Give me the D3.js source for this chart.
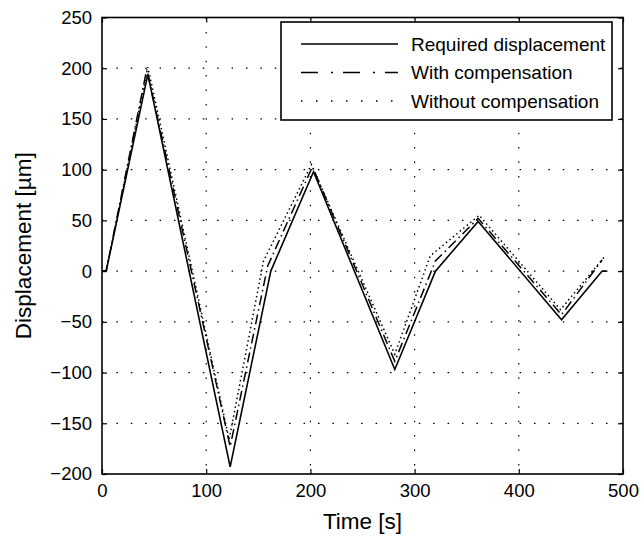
<!DOCTYPE html>
<html>
<head>
<meta charset="utf-8">
<script src="https://cdn.jsdelivr.net/npm/d3@7"></script>
<style>
  body { margin: 0; background: #fff; }
  svg text { font-family: "Liberation Sans", Arial, sans-serif; fill: #000; }
</style>
</head>
<body>
<svg id="chart" width="641" height="538"></svg>
<script>
// values: [time s, displacement um]
const required = [[0,0],[4,0],[44,194],[123,-193],[162,0],[203,98],[281,-97],[320,0],[361,49],[441,-48],[480,0],[484,0]];
const withComp = [[0,0],[4,0],[43,199],[123,-173],[159,5],[202,103],[281,-89],[320,10],[361,52],[441,-43],[480,11]];
const withoutComp = [[0,0],[4,0],[44,201],[122,-166],[155,10],[201,105],[281,-82],[315,15],[362,55],[440,-38],[483,15]];

const xTicks = [0, 100, 200, 300, 400, 500];
const yTicks = [-200, -150, -100, -50, 0, 50, 100, 150, 200, 250];

const seriesNames = ["Required displacement", "With compensation", "Without compensation"];

const svg = d3.select('#chart');
const pLeft = 102, pRight = 623, pTop = 17.5, pBottom = 474;

let x = d3.scaleLinear().domain([0, 500]).range([pLeft, pRight]);
let y = d3.scaleLinear().domain([-200, 250]).range([pBottom, pTop]);

// grid
let grid = svg.append('g');
grid.selectAll('line.gx').data(xTicks.slice(1, -1)).enter().append('line')
    .attr('x1', d => x(d)).attr('x2', d => x(d))
    .attr('y1', pTop).attr('y2', pBottom)
    .attr('stroke', '#000').attr('stroke-width', 1.2)
    .attr('stroke-dasharray', '1.5,12.9');
grid.selectAll('line.gy').data(yTicks.slice(1, -1)).enter().append('line')
    .attr('y1', d => y(d)).attr('y2', d => y(d))
    .attr('x1', pLeft).attr('x2', pRight)
    .attr('stroke', '#000').attr('stroke-width', 1.2)
    .attr('stroke-dasharray', '1.5,12.9');

// data lines
let line = d3.line().x(d => x(d[0])).y(d => y(d[1]));
let styles = [
    {data: required, dash: null, w: 1.6},
    {data: withComp, dash: '10,4,1.5,4', w: 1.5},
    {data: withoutComp, dash: '1.5,3', w: 1.5}
];
styles.forEach(function (s) {
    svg.append('path')
       .attr('d', line(s.data))
       .attr('fill', 'none')
       .attr('stroke', '#000')
       .attr('stroke-width', s.w)
       .attr('stroke-dasharray', s.dash);
});

// axes, ticks inside like matlab
let xAxis = d3.axisBottom(x).tickValues(xTicks).tickSize(-5).tickPadding(10).tickFormat(d3.format('d'));
let yAxis = d3.axisLeft(y).tickValues(yTicks).tickSize(-5).tickPadding(10)
              .tickFormat(d => d < 0 ? '\u2212' + Math.abs(d) : d);
let xTop = d3.axisTop(x).tickValues(xTicks).tickSize(-5).tickFormat('');
let yRight = d3.axisRight(y).tickValues(yTicks).tickSize(-5).tickFormat('');

svg.append('g').attr('transform', `translate(0,${pBottom})`).call(xAxis);
svg.append('g').attr('transform', `translate(${pLeft},0)`).call(yAxis);
svg.append('g').attr('transform', `translate(0,${pTop})`).call(xTop);
svg.append('g').attr('transform', `translate(${pRight},0)`).call(yRight);

svg.selectAll('.domain').remove();
svg.selectAll('.tick line').attr('stroke', '#000').attr('stroke-width', 1.2);
svg.selectAll('.tick text').attr('font-size', 18.5);

svg.append('rect')
   .attr('x', pLeft).attr('y', pTop)
   .attr('width', pRight - pLeft).attr('height', pBottom - pTop)
   .attr('fill', 'none').attr('stroke', '#000').attr('stroke-width', 1.6);

// axis titles
svg.append('text')
   .attr('x', (pLeft + pRight) / 2).attr('y', 529)
   .attr('text-anchor', 'middle').attr('font-size', 22.5)
   .text('Time [s]');
svg.append('text')
   .attr('transform', `translate(31,${(pTop + pBottom) / 2}) rotate(-90)`)
   .attr('text-anchor', 'middle').attr('font-size', 22.5)
   .text('Displacement [\u00b5m]');

// legend
let lg = svg.append('g');
lg.append('rect')
  .attr('x', 281).attr('y', 22).attr('width', 331).attr('height', 98)
  .attr('fill', '#fff').attr('stroke', '#000').attr('stroke-width', 1.6);
let legendDash = [null, '17,13,2,10', '1.5,13.5'];
seriesNames.forEach(function (name, i) {
    let ry = 44 + i * 28.5;
    lg.append('line')
      .attr('x1', 301).attr('x2', 398).attr('y1', ry).attr('y2', ry)
      .attr('stroke', '#000').attr('stroke-width', 1.5)
      .attr('stroke-dasharray', legendDash[i]);
    lg.append('text')
      .attr('x', 411).attr('y', ry + 6.5)
      .attr('font-size', 19)
      .text(name);
});
</script>
</body>
</html>
